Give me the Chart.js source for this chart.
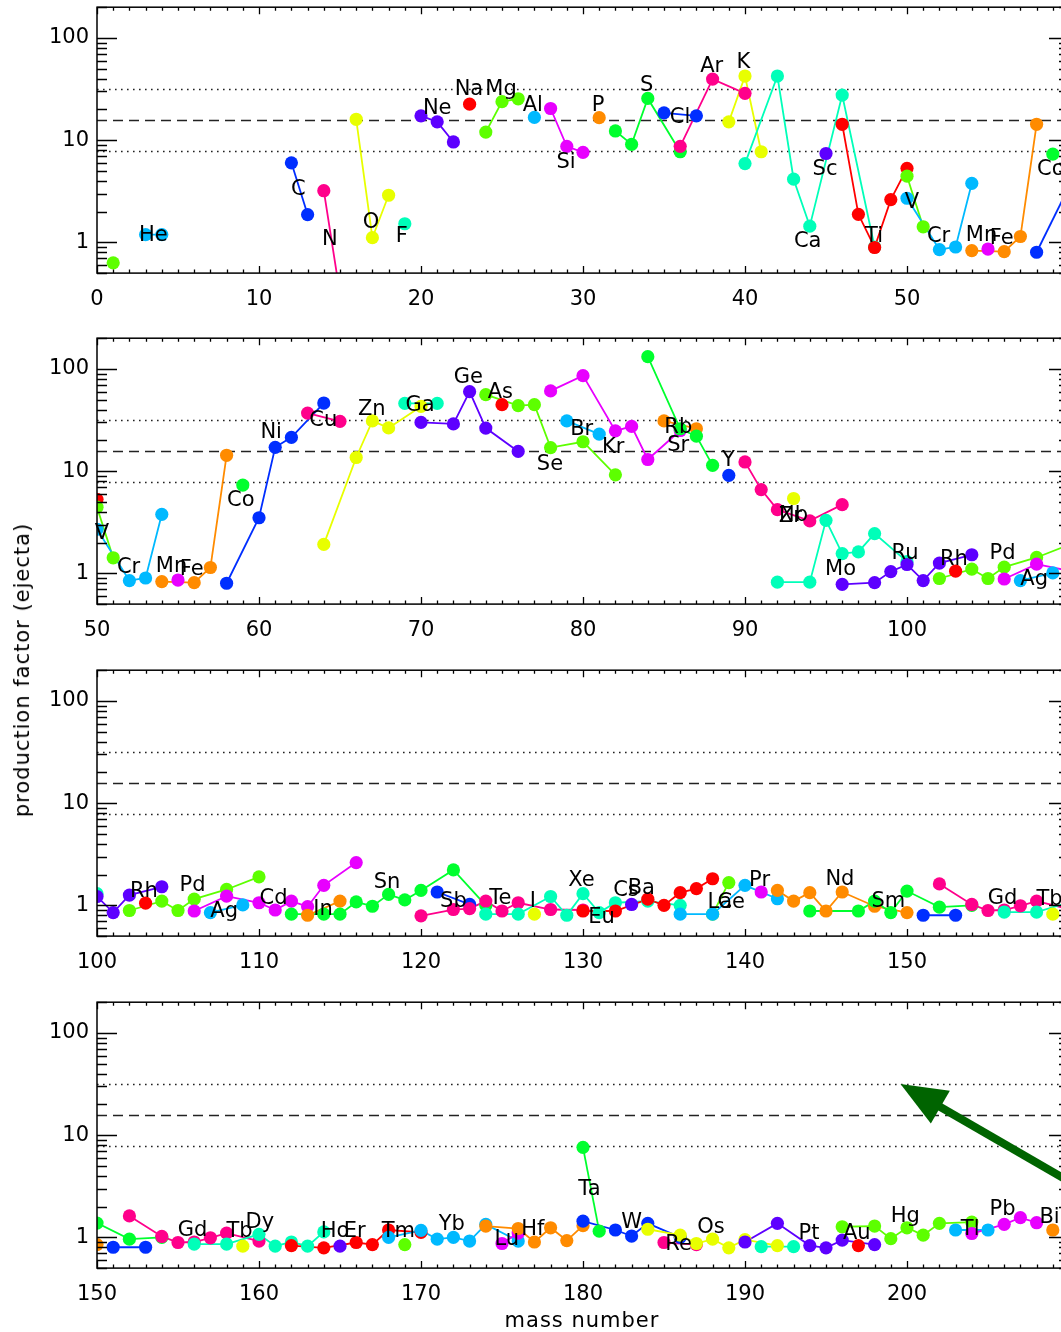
<!DOCTYPE html>
<html>
<head>
<meta charset="utf-8">
<script src="https://cdn.jsdelivr.net/npm/chart.js@4.4.1/dist/chart.umd.min.js"></script>
<style>
html,body{margin:0;padding:0;background:#fff;}
#wrap{position:relative;width:1061px;height:1332px;overflow:hidden;background:#fff;}
canvas{position:absolute;left:0;}
.ytitle{position:absolute;left:22px;top:670px;transform:translate(-50%,-50%) rotate(-90deg);font-family:'DejaVu Sans',sans-serif;font-size:21px;letter-spacing:1px;white-space:nowrap;color:#000;}
.xtitle{position:absolute;left:582px;top:1320px;transform:translate(-50%,-50%);font-family:'DejaVu Sans',sans-serif;font-size:21px;letter-spacing:1px;white-space:nowrap;color:#000;}
</style>
</head>
<body>
<div id="wrap">
<canvas id="p0" width="1085" height="331" style="top:0px"></canvas>
<canvas id="p1" width="1085" height="331" style="top:331px"></canvas>
<canvas id="p2" width="1085" height="331" style="top:663px"></canvas>
<canvas id="p3" width="1085" height="331" style="top:995px"></canvas>
<div class="ytitle">production factor (ejecta)</div>
<div class="xtitle">mass number</div>
</div>
<script>
// ---------------- DATA ----------------
const elementSymbols = ['H','He','Li','Be','B','C','N','O','F','Ne','Na','Mg','Al','Si','P','S','Cl','Ar','K','Ca',
 'Sc','Ti','V','Cr','Mn','Fe','Co','Ni','Cu','Zn','Ga','Ge','As','Se','Br','Kr','Rb','Sr','Y','Zr',
 'Nb','Mo','Ru','Rh','Pd','Ag','Cd','In','Sn','Sb','Te','I','Xe','Cs','Ba','La','Ce','Pr','Nd','Sm',
 'Eu','Gd','Tb','Dy','Ho','Er','Tm','Yb','Lu','Hf','Ta','W','Re','Os','Ir','Pt','Au','Hg','Tl','Pb','Bi'];

const massNumbers = [
 [1],[3,4],[],[],[],[12,13],[14,15],[16,17,18],[19],[20,21,22],
 [23],[24,25,26],[27],[28,29,30],[31],[32,33,34,36],[35,37],[36,38,40],[39,40,41],[40,42,43,44,46,48],
 [45],[46,47,48,49,50],[50,51],[50,52,53,54],[55],[54,56,57,58],[59],[58,60,61,62,64],[63,65],[64,66,67,68,70],
 [69,71],[70,72,73,74,76],[75],[74,76,77,78,80,82],[79,81],[78,80,82,83,84,86],[85,87],[84,86,87,88],[89],[90,91,92,94,96],
 [93],[92,94,95,96,97,98,100],[96,98,99,100,101,102,104],[103],[102,104,105,106,108,110],[107,109],[106,108,110,111,112,113,114,116],[113,115],[112,114,115,116,117,118,119,120,122,124],[121,123],
 [120,122,123,124,125,126,128,130],[127],[124,126,128,129,130,131,132,134,136],[133],[130,132,134,135,136,137,138],[138,139],[136,138,140,142],[141],[142,143,144,145,146,148,150],[144,147,148,149,150,152,154],
 [151,153],[152,154,155,156,157,158,160],[159],[156,158,160,161,162,163,164],[165],[162,164,166,167,168,170],[169],[168,170,171,172,173,174,176],[175,176],[174,176,177,178,179,180],
 [180,181],[180,182,183,184,186],[185,187],[184,186,187,188,189,190,192],[191,193],[190,192,194,195,196,198],[197],[196,198,199,200,201,202,204],[203,205],[204,206,207,208],[209]
];

const productionFactors = [
 [0.63],[1.19,1.19],[],[],[],[6.0,1.87],[3.2,0.31],[16,1.11,2.89],[1.52],[17.3,15.1,9.6],
 [22.5],[12,23.8,25.4],[16.7],[20.4,8.7,7.6],[16.6],[12.3,9.1,25.6,7.7],[18.5,17.3],[8.7,39.6,28.7],[15.1,42.4,7.7],[5.9,42.4,4.15,1.44,27.6,0.9],
 [7.4],[14.3,1.88,0.89,2.62,5.3],[4.44,1.42],[2.7,0.85,0.9,3.78],[0.86],[0.83,0.81,1.14,14.3],[7.3],[0.8,3.5,17.1,21.4,46.4],[37,30.7],[1.92,13.6,31,26.5,43],
 [46,46],[30,29,60,26.4,15.6],[44.7],[56,43.7,44.7,17,19.4,9.2],[31,23],[61,86,24.8,27.4,13,25],[31,26],[132,26,22,11.4],[9.1],[12.3,6.6,4.2,3.26,4.7],
 [5.4],[0.82,0.82,3.3,1.56,1.62,2.45,1.3],[0.78,0.81,1.04,1.22,0.85,1.26,1.52],[1.05],[0.89,1.1,0.89,1.15,1.43,1.9],[0.85,1.01],[0.88,1.23,1.06,0.9,1.1,0.97,1.57,2.62],[0.8,1.1],[0.82,0.82,0.82,1.08,0.98,1.28,1.13,1.4,2.22,1.0],[1.35,1.02],
 [0.79,0.91,0.93,1.1,0.88,1.06,0.91,0.9],[0.82],[0.82,0.82,1.22,0.8,1.3,0.85,1.06,1.1,1.0],[1.02],[0.88,0.88,1.15,1.0,1.33,1.46,1.82],[0.82,1.67],[0.82,0.82,1.57,1.16],[1.35],[1.4,1.1,1.33,0.88,1.35,0.98,0.85],[0.88,0.88,1.1,0.85,1.38,0.96,1.0],
 [0.8,0.8],[1.62,1.02,0.89,0.9,0.99,1.1,0.92],[0.82],[0.86,0.86,1.07,0.82,0.9,0.82,1.13],[0.82],[0.83,0.79,0.89,0.85,1.18,1.12],[0.85],[1.0,1.17,0.96,1.0,0.92,1.34,0.92],[0.87,1.1],[1.29,1.22,0.9,1.24,0.93,1.3],
 [7.6,1.15],[1.44,1.18,1.03,1.37,1.0],[0.89,0.85],[1.2,1.05,0.87,0.96,0.79,0.95,0.83],[0.81,0.81],[0.9,1.37,0.83,0.79,0.94,0.85],[0.83],[1.27,1.29,0.97,1.24,1.05,1.37,1.41],[1.18,1.18],[1.09,1.34,1.56,1.39],[1.18]
];

// label anchor for each element symbol (mass number, production factor); null = no label
const labelMass = [
 null,3.48,null,null,null,12.43,14.38,16.91,18.81,21.0,
 22.96,24.94,26.9,28.95,30.93,33.93,35.99,37.94,39.9,43.87,
 44.94,47.96,50.3,51.95,54.6,55.85,58.88,60.75,63.97,66.96,
 69.94,72.92,74.9,77.96,79.92,81.87,85.88,85.88,88.97,92.8,
 93.0,95.9,99.88,102.9,105.9,107.85,110.9,113.95,117.9,122.0,
 124.9,126.9,129.9,132.65,133.6,138.45,139.15,140.9,145.86,148.85,
 131.15,155.9,158.8,160.05,164.7,165.9,168.6,171.9,175.3,176.9,
 180.4,183.0,185.9,187.9,null,193.95,196.9,199.9,203.9,205.9,208.8
];
const labelFactor = [
 null,1.17,null,null,null,3.29,1.06,1.55,1.13,20.6,
 31,31,22,6.1,22,34.6,16.8,53,58,1.02,
 5.1,1.14,2.47,1.14,1.16,1.09,5.15,24,31.6,40.5,
 43.7,83,59,11.7,25.4,17.1,26.8,17.7,12.6,3.6,
 3.7,1.1,1.56,1.37,1.55,0.86,1.16,0.9,1.67,1.1,
 1.16,1.1,1.73,1.38,1.46,1.07,1.07,1.73,1.77,1.1,
 0.76,1.17,1.14,1.41,1.15,1.15,1.15,1.34,0.96,1.2,
 2.91,1.39,0.85,1.24,null,1.09,1.09,1.6,1.2,1.88,1.56
];

const panelRanges = [[0,60],[50,110],[100,160],[150,210]];
const xLabelStep = 10;
const yRange = [0.5, 200];
const yTickValues = [1, 10, 100];
const dottedLevels = [31.4, 7.85];
const dashedLevels = [15.7];
const arrowTip = [199.6, 31.6]; // in panel 4 (mass number, production factor)

// ---------------- STYLE ----------------
const FONT = 'DejaVu Sans';
function elementColor(k){
  const j = (3 + 3*k) % 11;
  return 'hsl(' + (j*360/11).toFixed(2) + ',100%,50%)';
}

const decorPlugin = {
  id: 'decor',
  beforeDatasetsDraw(chart){
    const {ctx, chartArea:a, scales:{y}} = chart;
    ctx.save();
    ctx.beginPath(); ctx.rect(a.left, a.top, a.right-a.left, a.bottom-a.top); ctx.clip();
    ctx.strokeStyle = '#222'; ctx.lineWidth = 1.6;
    dottedLevels.forEach(v=>{
      const py = Math.round(y.getPixelForValue(v)) + 0.5;
      ctx.setLineDash([1.6,4.4]);
      ctx.beginPath(); ctx.moveTo(a.left, py); ctx.lineTo(a.right, py); ctx.stroke();
    });
    dashedLevels.forEach(v=>{
      const py = Math.round(y.getPixelForValue(v)) + 0.5;
      ctx.setLineDash([10,6]);
      ctx.beginPath(); ctx.moveTo(a.left, py); ctx.lineTo(a.right, py); ctx.stroke();
    });
    ctx.restore();
  },
  afterDatasetsDraw(chart, args, opts){
    const {ctx, chartArea:a, scales:{x, y}} = chart;
    const [xmin, xmax] = opts.range;
    ctx.save();
    ctx.fillStyle = '#000';
    ctx.font = '21px "' + FONT + '"';
    ctx.textAlign = 'center'; ctx.textBaseline = 'middle';
    elementSymbols.forEach((s,k)=>{
      const m = labelMass[k];
      if (m === null || m < xmin || m > xmax) return;
      ctx.fillText(s, x.getPixelForValue(m), y.getPixelForValue(labelFactor[k]));
    });
    ctx.restore();
  },
  afterDraw(chart, args, opts){
    const {ctx, chartArea:a, scales:{x, y}} = chart;
    const [xmin, xmax] = opts.range;
    ctx.save();
    ctx.strokeStyle = '#000'; ctx.lineWidth = 1.5; ctx.setLineDash([]);
    ctx.strokeRect(a.left, a.top, a.right-a.left, a.bottom-a.top);
    ctx.lineWidth = 1.3;
    ctx.beginPath();
    for (let v = Math.ceil(xmin); v <= xmax; v++){
      const px = Math.round(x.getPixelForValue(v)) + 0.5;
      const len = (v % xLabelStep === 0) ? 7 : 3.5;
      ctx.moveTo(px, a.bottom); ctx.lineTo(px, a.bottom - len);
      ctx.moveTo(px, a.top); ctx.lineTo(px, a.top + len);
    }
    for (let d = -1; d <= 2; d++){
      for (let m = 1; m <= 9; m++){
        const v = m * Math.pow(10, d);
        if (v < yRange[0] || v > yRange[1]) continue;
        const py = Math.round(y.getPixelForValue(v)) + 0.5;
        const len = (m === 1) ? 20 : 10;
        ctx.moveTo(a.left, py); ctx.lineTo(a.left + len, py);
        ctx.moveTo(a.right, py); ctx.lineTo(a.right - len, py);
      }
    }
    ctx.stroke();
    if (opts.arrow){
      const tx = x.getPixelForValue(arrowTip[0]), ty = y.getPixelForValue(arrowTip[1]);
      const ang = 30 * Math.PI/180, dx = Math.cos(ang), dy = Math.sin(ang);
      const head = 46, half = 19;
      ctx.strokeStyle = '#006400'; ctx.fillStyle = '#006400';
      ctx.lineWidth = 8; ctx.lineCap = 'butt';
      ctx.beginPath(); ctx.moveTo(tx + dx*(head-4), ty + dy*(head-4)); ctx.lineTo(tx + dx*400, ty + dy*400); ctx.stroke();
      ctx.beginPath();
      ctx.moveTo(tx, ty);
      ctx.lineTo(tx + dx*head - dy*half, ty + dy*head + dx*half);
      ctx.lineTo(tx + dx*head + dy*half, ty + dy*head - dx*half);
      ctx.closePath(); ctx.fill();
    }
    ctx.restore();
  }
};

function buildDatasets(){
  const ds = [];
  elementSymbols.forEach((s,k)=>{
    const A = massNumbers[k], P = productionFactors[k];
    if (!A.length) return;
    const pts = A.map((m,i)=>({x:m, y:P[i]}));
    const c = elementColor(k);
    ds.push({label:s+' line', data:pts, showLine:true, pointRadius:0, borderColor:c, borderWidth:1.8, backgroundColor:c, order:2000-k, clip:0});
    ds.push({label:s, data:pts, showLine:false, pointRadius:6.6, pointHoverRadius:6.6, pointBackgroundColor:c, pointBorderWidth:0, borderColor:c, backgroundColor:c, order:1000-k, clip:0});
  });
  return ds;
}

const PAD_TOP = 7.2, PLOT_H = 265.9, CANVAS_H = 331;
panelRanges.forEach((r, p)=>{
  const ticks = [];
  for (let v = r[0]; v < r[1]; v += xLabelStep) ticks.push(v);
  new Chart(document.getElementById('p'+p), {
    type:'scatter',
    data:{datasets: buildDatasets()},
    plugins:[decorPlugin],
    options:{
      responsive:false, animation:false, devicePixelRatio:1,
      events:[],
      layout:{padding:{top:PAD_TOP, right:16, left:0, bottom:0}},
      plugins:{legend:{display:false}, tooltip:{enabled:false}, decor:{range:r, arrow: p===3}},
      scales:{
        x:{type:'linear', min:r[0], max:r[1],
           afterBuildTicks: ax => { ax.ticks = ticks.map(v=>({value:v})); },
           afterFit: s => { s.height = CANVAS_H - PAD_TOP - PLOT_H; s.paddingLeft = 0; s.paddingRight = 0; },
           grid:{display:false, drawTicks:false}, border:{display:false},
           ticks:{font:{family:FONT, size:21}, color:'#000', padding:14, maxRotation:0, autoSkip:false}},
        y:{type:'logarithmic', min:yRange[0], max:yRange[1],
           afterBuildTicks: ax => { ax.ticks = yTickValues.map(v=>({value:v})); },
           afterFit: s => { s.width = 97; s.paddingTop = 0; s.paddingBottom = 0; },
           grid:{display:false, drawTicks:false}, border:{display:false},
           ticks:{font:{family:FONT, size:21}, color:'#000', padding:8, callback: v => String(v)}}
      }
    }
  });
});
</script>
</body>
</html>
